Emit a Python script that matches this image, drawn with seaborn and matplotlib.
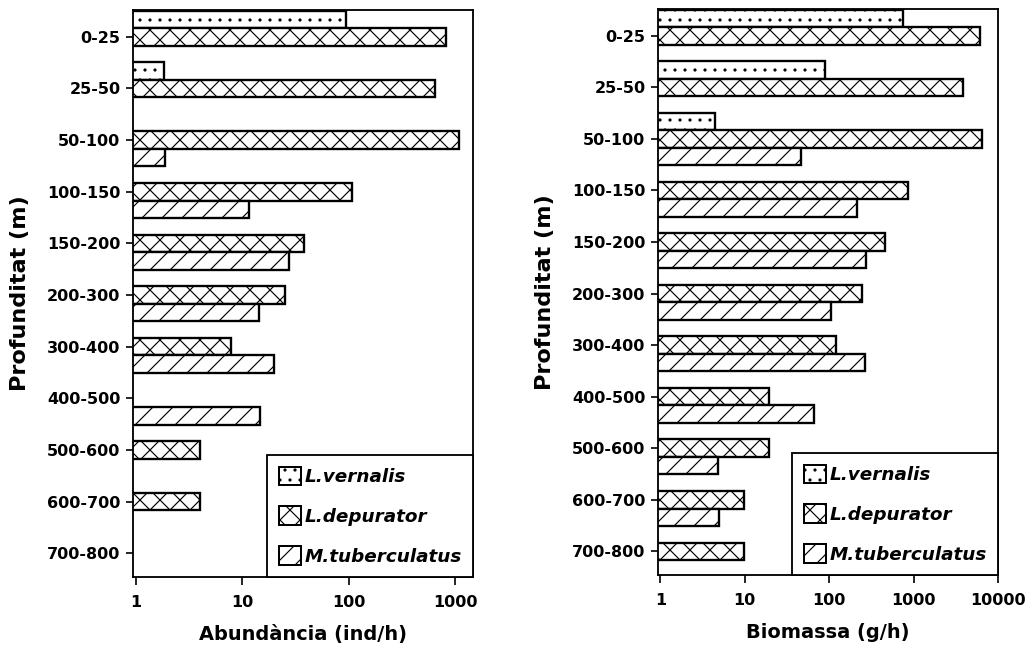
import matplotlib
matplotlib.use("Agg")
import matplotlib.pyplot as plt
from matplotlib.patches import Patch
import numpy as np
import pandas as pd
import seaborn as sns

# depth classes and species
depths = ["0-25", "25-50", "50-100", "100-150", "150-200", "200-300",
          "300-400", "400-500", "500-600", "600-700", "700-800"]
species = ["L.vernalis", "L.depurator", "M.tuberculatus"]

# Abundance (ind/h); nan = no bar
abund_vernalis = [95, 1.85, np.nan, np.nan, np.nan, np.nan, np.nan, np.nan, np.nan, np.nan, np.nan]
abund_depurator = [820, 645, 1080, 107, 38, 25, 7.8, np.nan, 4, 4, np.nan]
abund_tuberculatus = [np.nan, np.nan, 1.88, 11.5, 27.5, 14.5, 19.7, 14.8, np.nan, np.nan, np.nan]

# Biomass (g/h)
biom_vernalis = [755, 90, 4.5, np.nan, np.nan, np.nan, np.nan, np.nan, np.nan, np.nan, np.nan]
biom_depurator = [6100, 3800, 6500, 850, 465, 242, 122, 19.3, 19.4, 9.8, 9.8]
biom_tuberculatus = [np.nan, np.nan, 46, 211, 270, 104, 265, 66, 4.8, 4.9, np.nan]

hatches = {"L.vernalis": "..", "L.depurator": "xx", "M.tuberculatus": "//"}


def make_df(v1, v2, v3):
    rows = []
    for sp, vals in zip(species, [v1, v2, v3]):
        for d, v in zip(depths, vals):
            rows.append({"depth": d, "species": sp, "value": v})
    return pd.DataFrame(rows)


df_abund = make_df(abund_vernalis, abund_depurator, abund_tuberculatus)
df_biom = make_df(biom_vernalis, biom_depurator, biom_tuberculatus)

sns.set_style("ticks")
plt.rcParams["font.family"] = ["DejaVu Sans"]
plt.rcParams["font.weight"] = "bold"
plt.rcParams["text.color"] = "black"
plt.rcParams["axes.labelcolor"] = "black"
plt.rcParams["xtick.color"] = "black"
plt.rcParams["ytick.color"] = "black"
plt.rcParams["hatch.linewidth"] = 0.7
plt.rcParams["hatch.color"] = "black"

fig = plt.figure(figsize=(1036 / 120, 657 / 120), dpi=120)
ax1 = fig.add_axes([133 / 1036, 80 / 657, 340 / 1036, 567 / 657])
ax2 = fig.add_axes([658 / 1036, 82 / 657, 340 / 1036, 566 / 657])


def draw_panel(ax, df, xmax, xticks, xlabel):
    sns.barplot(data=df, y="depth", x="value", hue="species", order=depths,
                hue_order=species, orient="h", width=1.02, errorbar=None,
                palette=["white"] * 3, saturation=1, edgecolor="black",
                linewidth=1.4, ax=ax, legend=False)
    for cont, sp in zip(ax.containers, species):
        for bar in cont:
            bar.set_hatch(hatches[sp])
    ax.set_xscale("log")
    ax.set_xlim(0.94, xmax)
    ax.set_ylim(10.46, -0.52)
    ax.set_xticks(xticks)
    ax.set_xticklabels([str(t) for t in xticks])
    ax.xaxis.set_minor_locator(matplotlib.ticker.NullLocator())
    ax.tick_params(axis="x", length=5, width=1, pad=6, labelsize=9.6)
    ax.tick_params(axis="y", length=4, width=1, pad=3.5, labelsize=9.6)
    for s in ax.spines.values():
        s.set_visible(True)
        s.set_linewidth(1.1)
        s.set_color("black")
    ax.set_xlabel(xlabel, fontsize=11.6, fontweight="bold", labelpad=9)
    ax.set_ylabel("Profunditat (m)", fontsize=13.4, fontweight="bold", labelpad=10)

    handles = [Patch(facecolor="white", edgecolor="black", hatch=hatches[sp],
                     linewidth=1.2) for sp in species]
    leg = ax.legend(handles, species, loc="lower right", bbox_to_anchor=(1, 0),
                    borderaxespad=0, fancybox=False, framealpha=1,
                    edgecolor="black", handlelength=1.2, handleheight=1.2,
                    handletextpad=0.2, labelspacing=1.1, borderpad=0.62,
                    prop={"size": 11, "weight": "bold", "style": "italic"})
    leg.get_frame().set_linewidth(1.1)


draw_panel(ax1, df_abund, 1470, [1, 10, 100, 1000], "Abundància (ind/h)")
draw_panel(ax2, df_biom, 10000, [1, 10, 100, 1000, 10000], "Biomassa (g/h)")

fig.savefig("out.png", dpi=120)
